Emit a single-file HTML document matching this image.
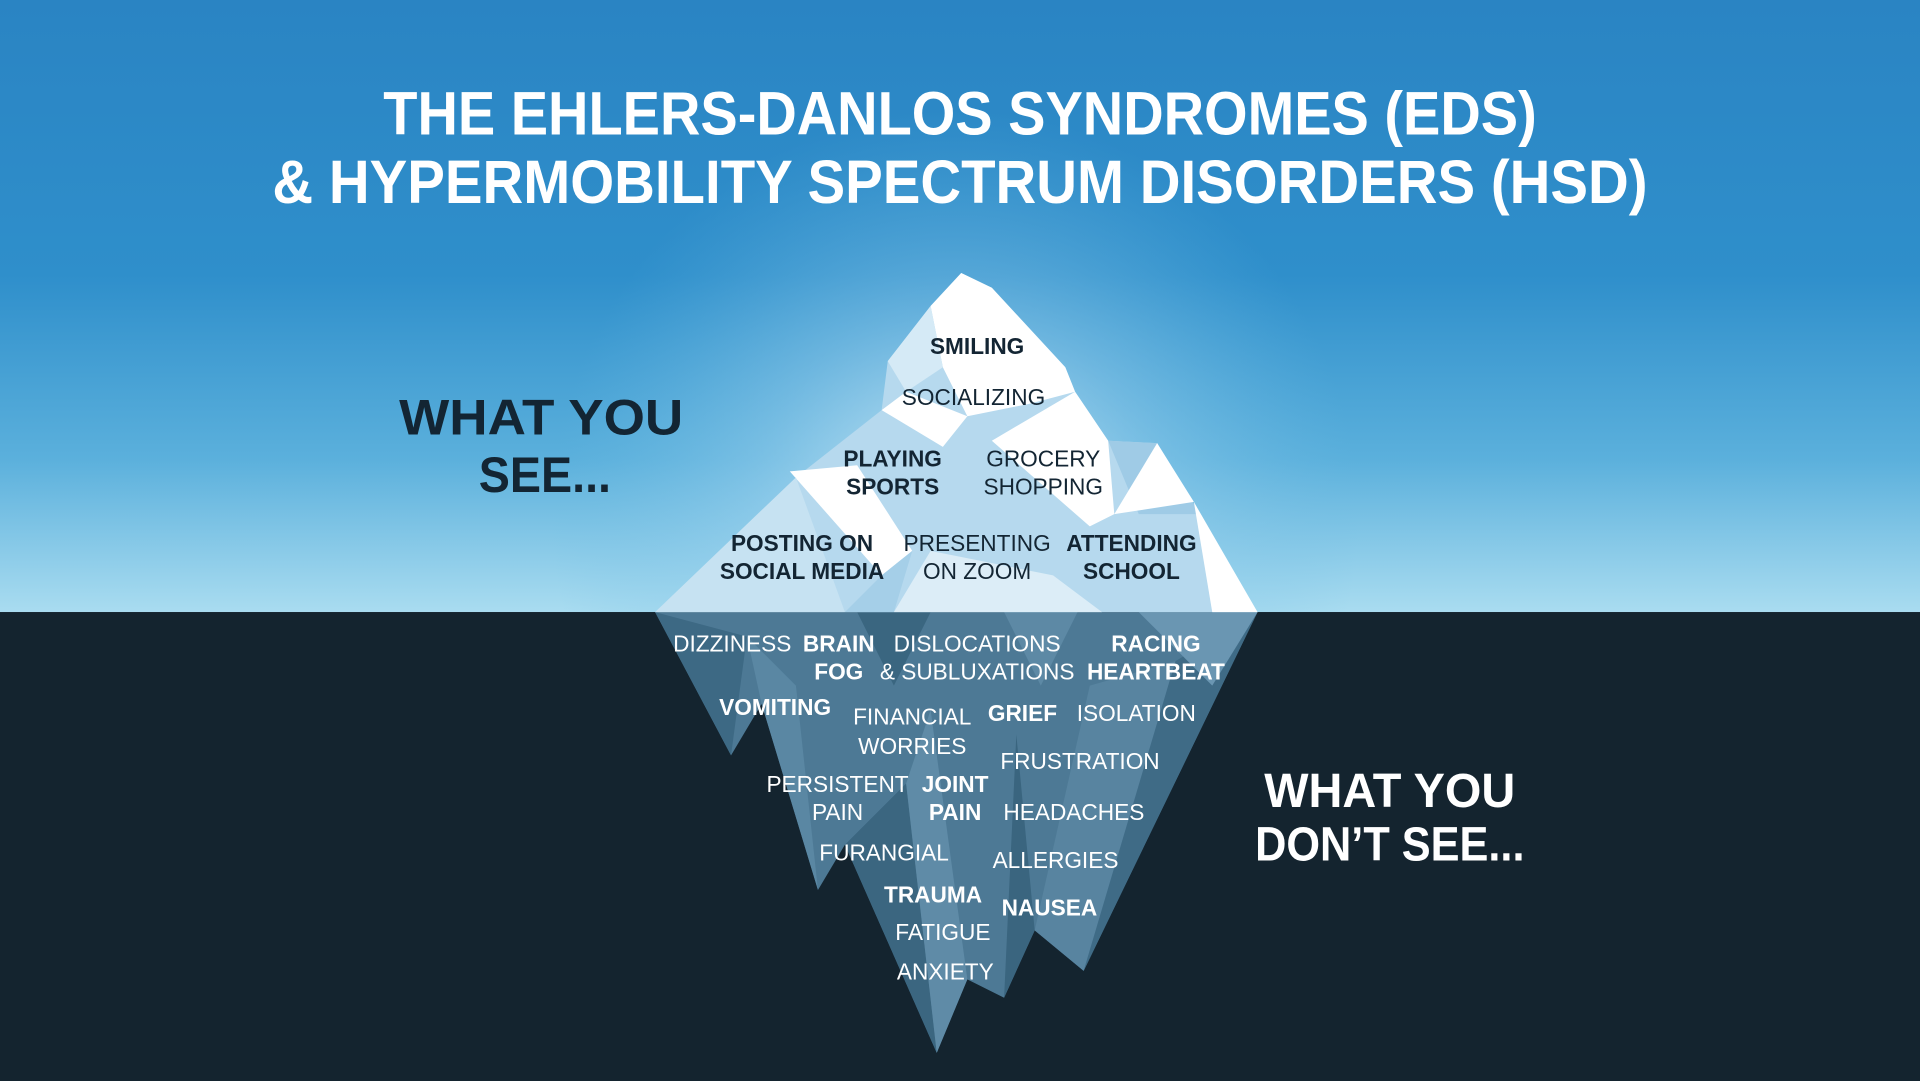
<!DOCTYPE html>
<html><head><meta charset="utf-8"><style>
html,body{margin:0;padding:0;width:1920px;height:1081px;overflow:hidden;background:#14242f}
svg{display:block}
text{font-family:"Liberation Sans",sans-serif;text-anchor:middle}
.b{font-weight:bold}
.dk{fill:#132533}
.wh{fill:#ffffff}
</style></head><body>
<svg width="1920" height="1081" viewBox="0 0 1568 883" preserveAspectRatio="none" xmlns="http://www.w3.org/2000/svg">
<defs>
<linearGradient id="sky" x1="0" y1="0" x2="0" y2="1">
<stop offset="0" stop-color="#2a84c3"/>
<stop offset="0.45" stop-color="#2f8fcb"/>
<stop offset="0.75" stop-color="#5bb0dc"/>
<stop offset="1" stop-color="#a9dcf0"/>
</linearGradient>
<radialGradient id="glow" cx="780" cy="420" r="330" gradientUnits="userSpaceOnUse">
<stop offset="0" stop-color="#e6f5fb" stop-opacity="0.9"/>
<stop offset="0.5" stop-color="#9fd3ee" stop-opacity="0.45"/>
<stop offset="1" stop-color="#6bbbe3" stop-opacity="0"/>
</radialGradient>
</defs>
<rect x="0" y="0" width="1568" height="500" fill="url(#sky)"/>
<rect x="0" y="0" width="1568" height="500" fill="url(#glow)"/>
<rect x="0" y="500" width="1568" height="383" fill="#14242f"/>

<polygon points="535,500 597,617 622,575 668,727 690,690 765,860 790,800 820,815 845,760 885,793 1027,500" fill="#4d7995"/>
<polygon points="535,500 597,617 610,520" fill="#3d6984"/>
<polygon points="610,520 622,575 668,727 650,560" fill="#5a87a3"/>
<polygon points="690,690 765,860 740,640" fill="#3b6680"/>
<polygon points="740,640 765,860 790,800 760,580" fill="#5f8ba7"/>
<polygon points="820,815 845,760 830,600" fill="#3a657f"/>
<polygon points="845,760 885,793 960,540 890,560" fill="#5884a0"/>
<polygon points="885,793 1027,500 960,540" fill="#3f6b86"/>
<polygon points="930,500 1027,500 990,560" fill="#6a96b2"/>
<polygon points="700,500 760,500 730,560" fill="#3a6680"/>
<polygon points="820,500 880,500 850,560" fill="#5d89a5"/>

<polygon points="535,500 650,390 720,335 725,295 760,250 785,223 810,235 870,300 878,320 905,360 945,362 980,420 1027,500" fill="#b6d9ee"/>
<polygon points="760,250 785,223 810,235 870,300 878,320 840,330 790,340 770,300" fill="#ffffff"/>
<polygon points="725,295 760,250 770,300 740,320" fill="#d5eaf6"/>
<polygon points="720,335 740,320 790,340 770,365" fill="#ffffff"/>
<polygon points="810,360 878,320 905,360 910,420 890,430" fill="#ffffff"/>
<polygon points="905,360 945,362 980,420 930,420" fill="#9fcbe6"/>
<polygon points="910,420 945,362 975,410" fill="#ffffff"/>
<polygon points="975,410 1027,500 990,500" fill="#ffffff"/>
<polygon points="645,385 700,380 745,450 720,470" fill="#ffffff"/>
<polygon points="535,500 650,390 690,500" fill="#c6e2f2"/>
<polygon points="730,500 760,450 860,470 900,500" fill="#dcedf7"/>
<polygon points="690,500 720,470 745,450 730,500" fill="#a5cfe8"/>

<text class="b wh" x="784" y="110" font-size="50" textLength="942" lengthAdjust="spacingAndGlyphs">THE EHLERS-DANLOS SYNDROMES (EDS)</text>
<text class="b wh" x="784" y="166" font-size="50" textLength="1123" lengthAdjust="spacingAndGlyphs">&amp; HYPERMOBILITY SPECTRUM DISORDERS (HSD)</text>

<text class="b dk" x="442" y="355" font-size="41" textLength="232" lengthAdjust="spacingAndGlyphs">WHAT YOU</text>
<text class="b dk" x="445" y="402" font-size="41" textLength="108" lengthAdjust="spacingAndGlyphs">SEE...</text>
<text class="b wh" x="1135" y="659" font-size="39" textLength="205" lengthAdjust="spacingAndGlyphs">WHAT YOU</text>
<text class="b wh" x="1135" y="703" font-size="39" textLength="220" lengthAdjust="spacingAndGlyphs">DON’T SEE...</text>

<g font-size="18.5">
<text class="b dk" x="798" y="289">SMILING</text>
<text class="dk" x="795" y="331">SOCIALIZING</text>
<text class="b dk" x="729" y="381">PLAYING</text>
<text class="b dk" x="729" y="404">SPORTS</text>
<text class="dk" x="852" y="381">GROCERY</text>
<text class="dk" x="852" y="404">SHOPPING</text>
<text class="b dk" x="655" y="450">POSTING ON</text>
<text class="b dk" x="655" y="473">SOCIAL MEDIA</text>
<text class="dk" x="798" y="450">PRESENTING</text>
<text class="dk" x="798" y="473">ON ZOOM</text>
<text class="b dk" x="924" y="450">ATTENDING</text>
<text class="b dk" x="924" y="473">SCHOOL</text>

<text class="wh" x="598" y="532">DIZZINESS</text>
<text class="b wh" x="685" y="532">BRAIN</text>
<text class="b wh" x="685" y="555">FOG</text>
<text class="wh" x="798" y="532">DISLOCATIONS</text>
<text class="wh" x="798" y="555">&amp; SUBLUXATIONS</text>
<text class="b wh" x="944" y="532">RACING</text>
<text class="b wh" x="944" y="555">HEARTBEAT</text>
<text class="b wh" x="633" y="584">VOMITING</text>
<text class="wh" x="745" y="592">FINANCIAL</text>
<text class="wh" x="745" y="616">WORRIES</text>
<text class="b wh" x="835" y="589">GRIEF</text>
<text class="wh" x="928" y="589">ISOLATION</text>
<text class="wh" x="882" y="628">FRUSTRATION</text>
<text class="wh" x="684" y="647">PERSISTENT</text>
<text class="wh" x="684" y="670">PAIN</text>
<text class="b wh" x="780" y="647">JOINT</text>
<text class="b wh" x="780" y="670">PAIN</text>
<text class="wh" x="877" y="670">HEADACHES</text>
<text class="wh" x="722" y="703">FURANGIAL</text>
<text class="wh" x="862" y="709">ALLERGIES</text>
<text class="b wh" x="762" y="737">TRAUMA</text>
<text class="b wh" x="857" y="748">NAUSEA</text>
<text class="wh" x="770" y="768">FATIGUE</text>
<text class="wh" x="772" y="800">ANXIETY</text>
</g>
</svg>
</body></html>
